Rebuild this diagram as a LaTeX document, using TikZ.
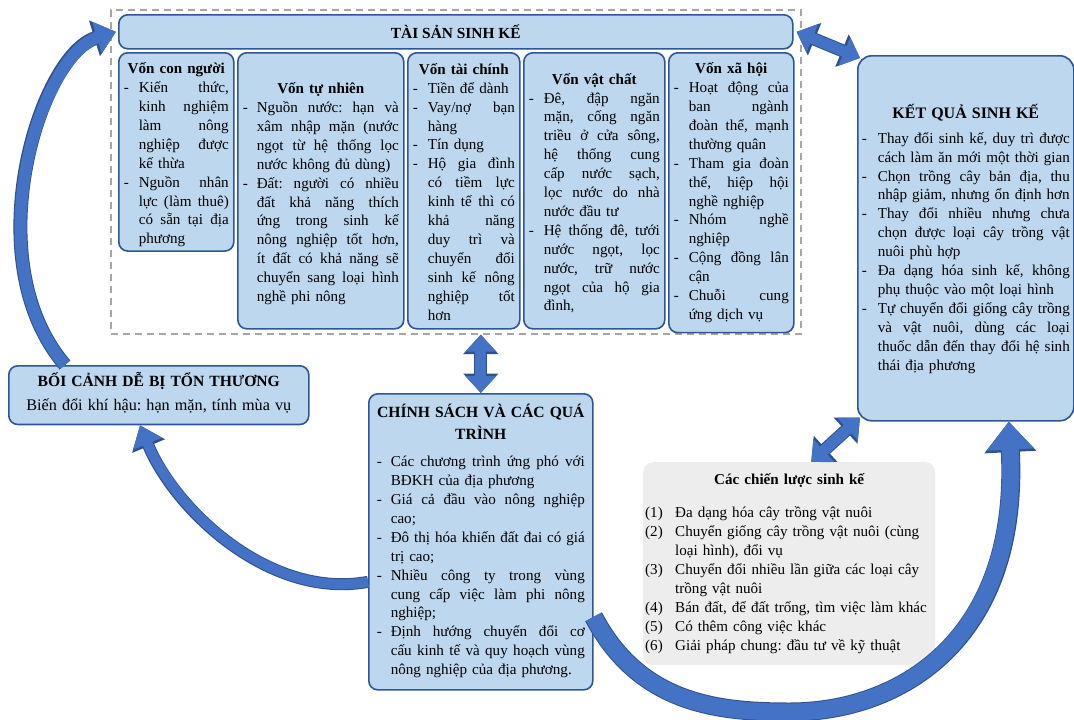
\documentclass[tikz,border=0pt]{standalone}
\usepackage{fontspec}
\setmainfont{Liberation Serif}
\usetikzlibrary{arrows.meta}
\definecolor{bfill}{HTML}{BDD7EE}
\definecolor{bdr}{HTML}{2F5597}
\definecolor{arr}{HTML}{4472C4}
\definecolor{arrdark}{HTML}{2F528F}
\definecolor{clfill}{HTML}{EDEDED}
\definecolor{dashgray}{HTML}{A6A6A6}
\newlength\itmind
\newcommand\itm{\par\noindent\hangindent=\itmind\hangafter=1\makebox[\itmind][l]{-}}
\newcommand\num[1]{\par\noindent\hangindent=\itmind\hangafter=1\makebox[\itmind][l]{#1}}
\newcommand\jl[1]{\hbox to \dimexpr\hsize-\itmind\relax{\spaceskip=0.25em plus 1fil\relax #1}\newline}
\newcommand\pl[1]{\mbox{#1}}
\newcommand\ctr[1]{\par\noindent\makebox[\hsize][c]{#1}\par}
\newcommand\ttl[1]{{\bfseries\ctr{#1}}}
\newcommand\up[1]{\par\kern#1\relax}
\begin{document}
\frenchspacing
\begin{tikzpicture}[x=1pt,y=-1pt,
  every node/.style={font=\frenchspacing\fontsize{15.1}{18.9}\selectfont},
  vb/.style={draw=bdr, fill=bfill, line width=1.6pt, rounded corners=9pt, anchor=north west, inner xsep=5pt, inner ysep=2pt},
  dbl/.style={line width=11pt, draw=arr, {Triangle[length=17pt,width=30pt]}-{Triangle[length=17pt,width=30pt]},
    preaction={draw=arrdark, line width=13pt, {Triangle[length=19.5pt,width=34pt]}-{Triangle[length=19.5pt,width=34pt]}}},
  leftarc/.style={draw=arr, line width=12pt, -{Triangle[length=20pt,width=32pt]},
    preaction={draw=arrdark, line width=14pt, -{Triangle[length=22.5pt,width=36pt]}}},
  lowarc/.style={draw=arr, line width=10pt, -{Triangle[length=20pt,width=30pt]},
    preaction={draw=arrdark, line width=12pt, -{Triangle[length=22.5pt,width=34pt]}}},
  botarc/.style={draw=arr, line width=17pt, -{Triangle[length=28pt,width=46pt]},
    preaction={draw=arrdark, line width=19pt, -{Triangle[length=30.5pt,width=50pt]}}}
]
\useasboundingbox (0,0) rectangle (1074,720);

% dashed frame of assets
\node[draw=dashgray, dash pattern=on 7pt off 5pt, line width=1.6pt, anchor=north west, minimum width=690pt, minimum height=324pt, inner sep=0pt] (assets) at (110,9) {};

\node[vb, minimum width=674pt, minimum height=34pt, font=\fontsize{15.4}{18}\selectfont] (title) at (118,14) {\bfseries TÀI SẢN SINH KẾ};

\node[vb, minimum width=115pt, minimum height=198pt, text width=105pt] (b1) at (118,52) {\setlength\itmind{15pt}\ttl{Vốn con người}
\itm \jl{Kiến thức,}\jl{kinh nghiệm}\jl{làm nông}\jl{nghiệp được}\pl{kế thừa}
\itm \jl{Nguồn nhân}\jl{lực (làm thuê)}\jl{có sẵn tại địa}\pl{phương}\up{2pt}};

\node[vb, minimum width=166pt, minimum height=276pt, text width=156pt] (b2) at (237,52) {\setlength\itmind{14pt}\ttl{Vốn tự nhiên}
\itm \jl{Nguồn nước: hạn và}\jl{xâm nhập mặn (nước}\jl{ngọt từ hệ thống lọc}\pl{nước không đủ dùng)}
\itm \jl{Đất: người có nhiều}\jl{đất khả năng thích}\jl{ứng trong sinh kế}\jl{nông nghiệp tốt hơn,}\jl{ít đất có khả năng sẽ}\jl{chuyển sang loại hình}\pl{nghề phi nông}\up{2pt}};

\node[vb, minimum width=112pt, minimum height=276pt, text width=102pt] (b3) at (407,52) {\setlength\itmind{15pt}\ttl{Vốn tài chính}
\itm \pl{Tiền để dành}
\itm \jl{Vay/nợ bạn}\pl{hàng}
\itm \pl{Tín dụng}
\itm \jl{Hộ gia đình}\jl{có tiềm lực}\jl{kinh tế thì có}\jl{khả năng}\jl{duy trì và}\jl{chuyển đổi}\jl{sinh kế nông}\jl{nghiệp tốt}\pl{hơn}\up{6pt}};

\node[vb, minimum width=141pt, minimum height=276pt, text width=131pt] (b4) at (523,52) {\setlength\itmind{15pt}\ttl{Vốn vật chất}
\itm \jl{Đê, đập ngăn}\jl{mặn, cống ngăn}\jl{triều ở cửa sông,}\jl{hệ thống cung}\jl{cấp nước sạch,}\jl{lọc nước do nhà}\pl{nước đầu tư}
\itm \jl{Hệ thống đê, tưới}\jl{nước ngọt, lọc}\jl{nước, trữ nước}\jl{ngọt của hộ gia}\pl{đình,}\up{3pt}};

\node[vb, minimum width=125pt, minimum height=276pt, text width=115pt] (b5) at (668,52) {\setlength\itmind{15pt}\ttl{Vốn xã hội}
\itm \jl{Hoạt động của}\jl{ban ngành}\jl{đoàn thể, mạnh}\pl{thường quân}
\itm \jl{Tham gia đoàn}\jl{thể, hiệp hội}\pl{nghề nghiệp}
\itm \jl{Nhóm nghề}\pl{nghiệp}
\itm \jl{Cộng đồng lân}\pl{cận}
\itm \jl{Chuỗi cung}\pl{ứng dịch vụ}\up{8pt}};

\node[vb, rounded corners=14pt, minimum width=216pt, minimum height=365pt, text width=208pt, inner xsep=4pt] (kq) at (857,55) {\setlength\itmind{16pt}{\fontsize{16}{20}\selectfont\bfseries\ctr{KẾT QUẢ SINH KẾ}}\vspace{6pt}
\itm \jl{Thay đổi sinh kế, duy trì được}\pl{cách làm ăn mới một thời gian}
\itm \jl{Chọn trồng cây bản địa, thu}\pl{nhập giảm, nhưng ổn định hơn}
\itm \jl{Thay đổi nhiều nhưng chưa}\jl{chọn được loại cây trồng vật}\pl{nuôi phù hợp}
\itm \jl{Đa dạng hóa sinh kế, không}\pl{phụ thuộc vào một loại hình}
\itm \jl{Tự chuyển đổi giống cây trồng}\jl{và vật nuôi, dùng các loại}\jl{thuốc dẫn đến thay đổi hệ sinh}\pl{thái địa phương}\up{5pt}};

\node[vb, minimum width=300pt, minimum height=55pt, text width=290pt] (bc) at (8,365) {{\fontsize{15.6}{19}\selectfont\bfseries\ctr{BỐI CẢNH DỄ BỊ TỔN THƯƠNG}}\vspace{5pt}{\fontsize{16.2}{19}\selectfont\ctr{Biến đổi khí hậu: hạn mặn, tính mùa vụ}}\up{9pt}};

\node[vb, minimum width=224pt, minimum height=293pt, text width=208pt, inner xsep=8pt] (cs) at (368,393) {\setlength\itmind{14pt}{\fontsize{15.6}{22}\selectfont\bfseries\ctr{CHÍNH SÁCH VÀ CÁC QUÁ}\ctr{TRÌNH}}\vspace{8pt}
\itm \jl{Các chương trình ứng phó với}\pl{BĐKH của địa phương}
\itm \jl{Giá cả đầu vào nông nghiệp}\pl{cao;}
\itm \jl{Đô thị hóa khiến đất đai có giá}\pl{trị cao;}
\itm \jl{Nhiều công ty trong vùng}\jl{cung cấp việc làm phi nông}\pl{nghiệp;}
\itm \jl{Định hướng chuyển đổi cơ}\jl{cấu kinh tế và quy hoạch vùng}\pl{nông nghiệp của địa phương.}\up{10pt}};

\node[fill=clfill, rounded corners=10pt, anchor=north west, minimum width=292pt, minimum height=203pt, text width=288pt, inner xsep=2pt] (cl) at (643,462) {\setlength\itmind{30pt}\ttl{Các chiến lược sinh kế}\vspace{14pt}
\num{(1)}\pl{Đa dạng hóa cây trồng vật nuôi}
\num{(2)}\pl{Chuyển giống cây trồng vật nuôi (cùng}\newline\pl{loại hình), đổi vụ}
\num{(3)}\pl{Chuyển đổi nhiều lần giữa các loại cây}\newline\pl{trồng vật nuôi}
\num{(4)}\pl{Bán đất, để đất trống, tìm việc làm khác}
\num{(5)}\pl{Có thêm công việc khác}
\num{(6)}\pl{Giải pháp chung: đầu tư về kỹ thuật}\up{8pt}};

% straight double arrows
\draw[dbl] ([xshift=3pt]title.east) -- ([xshift=3pt,yshift=-3pt]kq.north west);
\draw[dbl] (assets.south -| cs.north) -- (cs.north);
\draw[dbl] ([xshift=22pt]cl.north) -- ([xshift=3pt,yshift=4pt]kq.south west);

% curved arrows
\draw[leftarc] ([xshift=57pt]bc.north west) .. controls (-25,260) and (40,55) .. ([xshift=-2pt]title.west);
\draw[lowarc] ([yshift=-40pt]cs.west) .. controls (270,600) and (175,510) .. ([xshift=132pt]bc.south west);
\coordinate (botm) at (790,712);
\draw[botarc] ([yshift=-75pt]cs.east) .. controls (640,705) and (720,712) .. (botm) .. controls (900,712) and (1020,640) .. ([xshift=43pt]kq.south);
\end{tikzpicture}
\end{document}
